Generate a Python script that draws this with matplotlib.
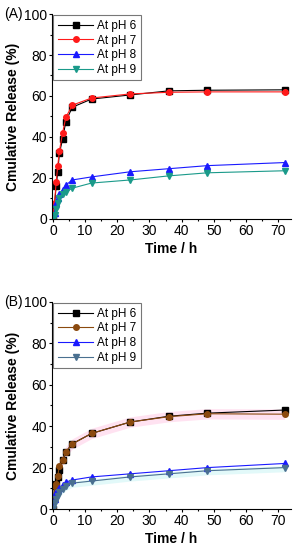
import matplotlib
matplotlib.use('Agg')
import matplotlib.pyplot as plt
from matplotlib.ticker import MultipleLocator

time = [0, 0.5, 1, 1.5, 2, 3, 4, 6, 12, 24, 36, 48, 72]

# panel A
a_ph6 = [0, 7, 16, 23, 32, 39, 47.5, 54.5, 58.5, 60.5, 62.5, 62.8, 63]
a_ph7 = [0, 8, 18, 26, 33, 42, 49.5, 55.5, 59, 61, 61.8, 62, 62]
a_ph8 = [0, 3, 8, 10, 12, 14, 16.5, 19, 20.5, 23, 24.5, 26, 27.5]
a_ph9 = [0, 2, 5, 8, 10, 12, 13, 15, 17.5, 19, 21, 22.5, 23.5]

# panel B
b_ph6 = [0, 11, 12, 15.5, 19, 23.5, 27.5, 31.5, 36.5, 42, 44.8, 46.3, 47.8]
b_ph7 = [0, 11, 12, 16, 21, 23.7, 27.7, 31.4, 36.5, 42, 44.6, 46, 45.8]
b_ph8 = [0, 5, 8, 9, 10, 11.5, 13, 14, 15.5, 17, 18.5, 20, 22]
b_ph9 = [0, 3, 5, 6.5, 8, 9.5, 11, 12.5, 13.5, 15.5, 17, 18.5, 20]

labels = ['At pH 6', 'At pH 7', 'At pH 8', 'At pH 9']
markers = ['s', 'o', '^', 'v']
colors_a = ['black', '#ff1a1a', '#1a1aff', '#1a9a8a']
colors_b = ['black', '#8b4a0f', '#1a1aff', '#4a7090']

plt.rcParams['font.family'] = 'Liberation Sans'

fig = plt.figure(figsize=(2.97, 5.5), dpi=100)
ax1 = fig.add_axes([0.175, 0.602, 0.805, 0.3725])
ax2 = fig.add_axes([0.175, 0.0745, 0.805, 0.3765])


def style(ax, series, colors, tag):
    for ys, lab, m, c in zip(series, labels, markers, colors):
        ax.plot(time, ys, color=c, marker=m, markersize=4, linewidth=0.8, label=lab)
    ax.set_xlim(-0.3, 74)
    ax.set_ylim(0, 100)
    ax.xaxis.set_major_locator(MultipleLocator(10))
    ax.xaxis.set_minor_locator(MultipleLocator(5))
    ax.yaxis.set_major_locator(MultipleLocator(20))
    ax.yaxis.set_minor_locator(MultipleLocator(10))
    ax.spines['top'].set_visible(False)
    ax.spines['right'].set_visible(False)
    ax.tick_params(which='both', direction='out', labelsize=10, width=0.8)
    ax.tick_params(which='major', length=2.5, pad=1.2)
    ax.tick_params(which='minor', length=1.5)
    ax.set_xlabel('Time / h', fontsize=10, fontweight='bold', labelpad=3)
    ax.set_ylabel('Cmulative Release (%)', fontsize=10, fontweight='bold', labelpad=3)
    leg = ax.legend(loc='upper left', fontsize=8.5, frameon=True, fancybox=False,
                    edgecolor='#555555', handlelength=3.0, handletextpad=0.3,
                    borderpad=0.4, labelspacing=0.22, borderaxespad=0.1)
    leg.get_frame().set_linewidth(0.8)
    top = ax.get_position().y1
    fig.text(0.015, top, tag, fontsize=10, va='center', ha='left')


style(ax1, [a_ph6, a_ph7, a_ph8, a_ph9], colors_a, '(A)')
style(ax2, [b_ph6, b_ph7, b_ph8, b_ph9], colors_b, '(B)')

# faint shading around the pH 7 and pH 9 curves in panel B
ax2.fill_between(time, [v - 2.5 for v in b_ph7], [v + 2.5 for v in b_ph7],
                 color='#ffd0e8', alpha=0.6, linewidth=0, zorder=0)
ax2.fill_between(time, [v - 2 for v in b_ph9], [v + 1 for v in b_ph9],
                 color='#d0f5f5', alpha=0.6, linewidth=0, zorder=0)

fig.savefig('out.png', dpi=100)
